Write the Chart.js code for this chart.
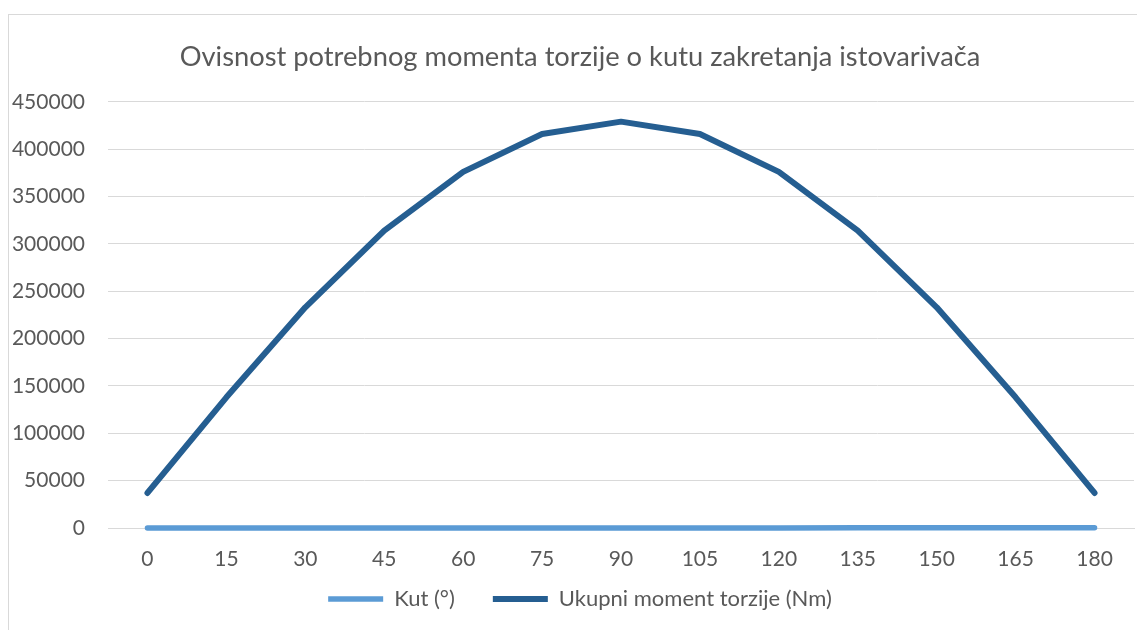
<!DOCTYPE html>
<html>
<head>
<meta charset="utf-8">
<title>Ovisnost potrebnog momenta torzije o kutu zakretanja istovarivača</title>
<script src="https://cdn.jsdelivr.net/npm/chart.js@4.4.1/dist/chart.umd.min.js"></script>
<style>
  html, body { margin: 0; padding: 0; background: #ffffff; overflow: hidden; }
  #frame { position: absolute; left: 8px; top: 14px; width: 1400px; height: 900px; border: 1px solid #d9d9d9; box-sizing: border-box; }
  #wrap { position: absolute; left: 0; top: 0; width: 1137px; height: 630px; }
</style>
</head>
<body>
<div id="frame"></div>
<div id="wrap"><canvas id="c" width="1137" height="630"></canvas></div>
<script>
// Chart text
const chartTitle = 'Ovisnost potrebnog momenta torzije o kutu zakretanja istovarivača';
const seriesNames = ['Kut (°)', 'Ukupni moment torzije (Nm)'];

// Categories: rotation angle in degrees
const angles = ['0', '15', '30', '45', '60', '75', '90', '105', '120', '135', '150', '165', '180'];

// Series values
const kutValues = [0, 15, 30, 45, 60, 75, 90, 105, 120, 135, 150, 165, 180];
const momentValues = [37000, 138000, 233000, 314000, 376000, 416000, 429000, 416000, 376000, 314000, 233000, 138000, 37000];

// Value axis range
const yMin = 0;
const yMax = 450000;
const yStep = 50000;

const textColor = '#595959';
const gridColor = '#d9d9d9';
const fontFamily = 'Lato, "Open Sans", "Noto Sans", sans-serif';

// Let tick labels spill outside their axis box instead of being clipped to it
const unclipLabels = (scale) => { scale._computeLabelArea = () => undefined; };

new Chart(document.getElementById('c'), {
  type: 'line',
  data: {
    labels: angles,
    datasets: [
      {
        label: seriesNames[0],
        data: kutValues,
        borderColor: '#5b9bd5',
        backgroundColor: '#5b9bd5',
        borderWidth: 5.5,
        borderCapStyle: 'round',
        borderJoinStyle: 'round',
        pointRadius: 0,
        pointHoverRadius: 0,
        pointStyle: 'line',
        tension: 0,
        fill: false,
        clip: false
      },
      {
        label: seriesNames[1],
        data: momentValues,
        borderColor: '#255e91',
        backgroundColor: '#255e91',
        borderWidth: 6,
        borderCapStyle: 'round',
        borderJoinStyle: 'round',
        pointRadius: 0,
        pointHoverRadius: 0,
        pointStyle: 'line',
        tension: 0,
        fill: false,
        clip: false
      }
    ]
  },
  options: {
    responsive: false,
    animation: false,
    devicePixelRatio: 1,
    layout: { padding: { left: 26, right: 3, top: 0, bottom: 10 } },
    plugins: {
      title: {
        display: true,
        text: chartTitle,
        color: textColor,
        font: { family: fontFamily, size: 27.3, weight: 'normal', lineHeight: 1.2 },
        padding: { top: 41, bottom: 28 }
      },
      legend: {
        display: true,
        position: 'bottom',
        labels: {
          color: textColor,
          font: { family: fontFamily, size: 22, lineHeight: 1.2 },
          usePointStyle: true,
          pointStyleWidth: 55,
          padding: 38
        }
      },
      tooltip: { enabled: false }
    },
    scales: {
      x: {
        type: 'category',
        offset: true,
        grid: { display: false, drawTicks: false },
        border: { display: true, color: gridColor, width: 1 },
        ticks: {
          color: textColor,
          font: { family: fontFamily, size: 21 },
          padding: 19,
          maxRotation: 0,
          autoSkip: false
        },
        afterFit: (scale) => { scale.height = 22; unclipLabels(scale); }
      },
      y: {
        min: yMin,
        max: yMax,
        grid: { color: gridColor, lineWidth: 1, drawTicks: false },
        border: { display: false },
        ticks: {
          stepSize: yStep,
          color: textColor,
          font: { family: fontFamily, size: 21 },
          padding: 23,
          callback: (v) => String(v)
        },
        afterFit: (scale) => { scale.width = 82; unclipLabels(scale); }
      }
    }
  }
});
</script>
</body>
</html>
